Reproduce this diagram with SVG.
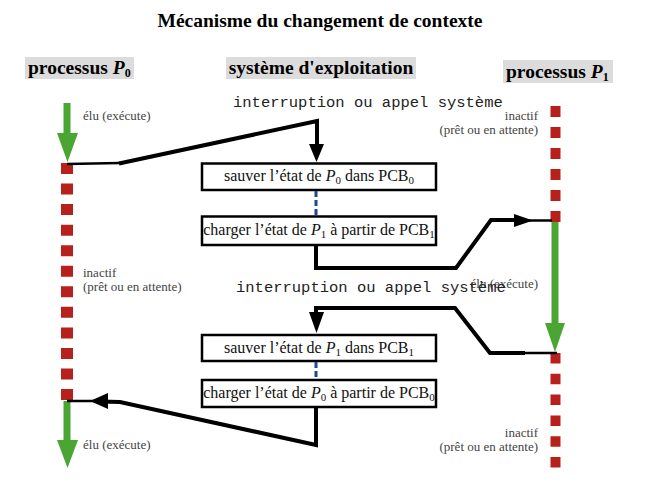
<svg xmlns="http://www.w3.org/2000/svg" width="649" height="493" viewBox="0 0 649 493">
<style>
.title{font-family:"Liberation Serif","Times New Roman",serif;font-weight:bold;font-size:19.5px;fill:#000}
.hdr{font-family:"Liberation Serif","Times New Roman",serif;font-weight:bold;font-size:19.5px;fill:#000}
.hbg{fill:#dcdcdc}
.mono{font-family:"Liberation Mono","Courier New",monospace;font-size:15.5px;fill:#222}
.lbl{font-family:"Liberation Serif","Times New Roman",serif;font-size:13px;fill:#444}
.box{fill:#fff;stroke:#000;stroke-width:2.5}
.btxt{font-family:"Liberation Serif","Times New Roman",serif;font-size:16px;fill:#111;text-anchor:middle}
.it{font-style:italic}
.conn{fill:none;stroke:#000;stroke-width:4;stroke-linejoin:miter}
.thin{fill:none;stroke:#000;stroke-width:2.5}
.head{fill:#000}
.green{stroke:#4aa532;stroke-width:7;fill:none}
.ghead{fill:#4aa532}
.red{stroke:#b8201c;fill:none}
.blue{stroke:#1f4b8e;stroke-width:3;stroke-dasharray:6 3;fill:none}
</style>

<text class="title" x="320" y="27" text-anchor="middle">Mécanisme du changement de contexte</text>

<g id="hdr-p0">
<rect class="hbg" x="25" y="57" width="109" height="22"/>
<text class="hdr" x="28" y="74">processus <tspan class="it">P</tspan><tspan font-size="12" dy="3">0</tspan></text>
</g>
<g id="hdr-os">
<rect class="hbg" x="226" y="57" width="190" height="22"/>
<text class="hdr" x="321" y="74" text-anchor="middle">système d'exploitation</text>
</g>
<g id="hdr-p1">
<rect class="hbg" x="503" y="60" width="110" height="23"/>
<text class="hdr" x="506" y="78">processus <tspan class="it">P</tspan><tspan font-size="12" dy="3">1</tspan></text>
</g>

<g id="process-p0">
<line class="green" x1="67" y1="103" x2="67" y2="136"/>
<polygon class="ghead" points="57,133 78,133 67.5,162"/>
<line class="red" x1="67" y1="163" x2="67" y2="400" stroke-width="12" stroke-dasharray="11 9.55"/>
<line class="green" x1="67" y1="401" x2="67" y2="443"/>
<polygon class="ghead" points="57,440 78,440 67.5,468"/>
<text class="lbl" x="83" y="120">élu (exécute)</text>
<text class="lbl" x="83" y="277">inactif</text>
<text class="lbl" x="83" y="291">(prêt ou en attente)</text>
<text class="lbl" x="83" y="449">élu (exécute)</text>
</g>

<g id="process-p1">
<line class="red" x1="555.5" y1="106" x2="555.5" y2="222" stroke-width="10" stroke-dasharray="11 10"/>
<line class="green" x1="555" y1="222" x2="555" y2="326" stroke-width="8"/>
<polygon class="ghead" points="545,323 565,323 555,352"/>
<line class="red" x1="555.5" y1="353" x2="555.5" y2="468" stroke-width="10" stroke-dasharray="10.5 10.3"/>
<text class="lbl" x="538" y="120" text-anchor="end">inactif</text>
<text class="lbl" x="538" y="134" text-anchor="end">(prêt ou en attente)</text>
<text class="lbl" x="538" y="288" text-anchor="end">élu (exécute)</text>
<text class="lbl" x="538" y="437" text-anchor="end">inactif</text>
<text class="lbl" x="538" y="451" text-anchor="end">(prêt ou en attente)</text>
</g>

<g id="os-labels">
<text class="mono" x="233" y="107">interruption ou appel système</text>
<text class="mono" x="236" y="292">interruption ou appel système</text>
</g>

<g id="box-save-p0">
<rect class="box" x="202" y="163.5" width="234" height="26.5"/>
<text class="btxt" x="319" y="181">sauver l’état de <tspan class="it">P</tspan><tspan font-size="11" dy="3">0</tspan><tspan dy="-3"> dans PCB</tspan><tspan font-size="11" dy="3">0</tspan></text>
</g>
<g id="box-load-p1">
<rect class="box" x="202" y="216.5" width="234" height="28.5"/>
<text class="btxt" x="319" y="235">charger l’état de <tspan class="it">P</tspan><tspan font-size="11" dy="3">1</tspan><tspan dy="-3"> à partir de PCB</tspan><tspan font-size="11" dy="3">1</tspan></text>
</g>
<g id="box-save-p1">
<rect class="box" x="202" y="335" width="234" height="26"/>
<text class="btxt" x="319" y="353">sauver l’état de <tspan class="it">P</tspan><tspan font-size="11" dy="3">1</tspan><tspan dy="-3"> dans PCB</tspan><tspan font-size="11" dy="3">1</tspan></text>
</g>
<g id="box-load-p0">
<rect class="box" x="202" y="380" width="234" height="27" stroke-width="2"/>
<text class="btxt" x="319" y="398">charger l’état de <tspan class="it">P</tspan><tspan font-size="11" dy="3">0</tspan><tspan dy="-3"> à partir de PCB</tspan><tspan font-size="11" dy="3">0</tspan></text>
</g>

<g id="connectors">
<line class="blue" x1="316" y1="191" x2="316" y2="216"/>
<line class="blue" x1="316" y1="362" x2="316" y2="380"/>

<path class="thin" d="M67,164 L120,163"/>
<path class="conn" d="M119,163.5 L317,121 L317,148"/>
<polygon class="head" points="309,144 324,144 316.5,162"/>

<path class="conn" d="M316,246 L316,268 L456,268 L491,220 L520,220"/>
<path class="thin" d="M515,220.5 L552,220.5"/>
<polygon class="head" points="514,214 514,227 533,220.5"/>

<path class="thin" d="M557,353 L520,353"/>
<path class="conn" d="M525,353 L490,353 L455,308 L316,308 L316,316"/>
<polygon class="head" points="309,312 324,312 316.5,333"/>

<path class="conn" d="M316,407 L316,445 L120,402 L100,401.5"/>
<path class="thin" d="M96,401 L67,401"/>
<polygon class="head" points="108,393 108,409 90,401"/>
</g>
</svg>
